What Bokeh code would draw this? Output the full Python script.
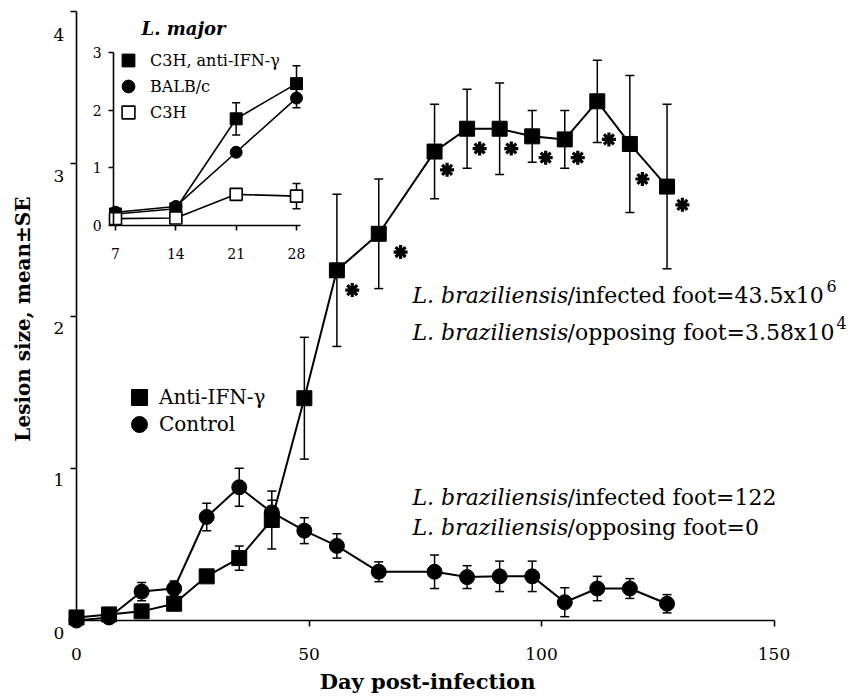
import math
from bokeh.plotting import figure
from bokeh.models import (Range1d, LinearAxis, FixedTicker, ColumnDataSource, Whisker,
                          TeeHead, Legend, LegendItem, Label)
from bokeh.embed import file_html
from bokeh.resources import INLINE

# ---------------- data ----------------
days = [0, 7, 14, 21, 28, 35, 42, 49, 56, 65, 77, 84, 91, 98, 105, 112, 119, 127]
anti_ifn_mean = [0.02, 0.04, 0.06, 0.11, 0.29, 0.41, 0.66, 1.46, 2.30, 2.54, 3.08, 3.23,
                 3.23, 3.18, 3.16, 3.41, 3.13, 2.85]
anti_ifn_se = [0, 0, 0, 0, 0.03, 0.08, 0.19, 0.40, 0.50, 0.36, 0.31, 0.26, 0.30, 0.17,
               0.19, 0.27, 0.45, 0.54]
control_mean = [0.0, 0.02, 0.19, 0.21, 0.68, 0.875, 0.71, 0.59, 0.49, 0.32, 0.32, 0.285,
                0.29, 0.29, 0.12, 0.21, 0.21, 0.11]
control_se = [0, 0, 0.06, 0.05, 0.09, 0.125, 0.08, 0.085, 0.08, 0.065, 0.11, 0.075, 0.10,
              0.10, 0.095, 0.08, 0.065, 0.06]
# significance asterisks
star_x = [59.3, 69.7, 79.7, 86.7, 93.5, 100.9, 107.8, 114.5, 121.7, 130.3]
star_y = [2.17, 2.42, 2.96, 3.10, 3.10, 3.04, 3.04, 3.16, 2.90, 2.73]

# inset (L. major)
inset_days = [7, 14, 21, 28]
c3h_anti_mean = [0.20, 0.29, 1.85, 2.46]
c3h_anti_se = [0.02, 0.02, 0.28, 0.31]
balbc_mean = [0.23, 0.33, 1.27, 2.21]
balbc_se = [0.02, 0.02, 0.05, 0.17]
c3h_mean = [0.12, 0.13, 0.54, 0.51]
c3h_se = [0.02, 0.02, 0.04, 0.22]

x_ticks = [0, 50, 100, 150]
y_ticks = [0, 1, 2, 3, 4]
inset_x_ticks = [7, 14, 21, 28]
inset_y_ticks = [0, 1, 2, 3]

# ---------------- geometry (canvas pixels) ----------------
W, H = 846, 696
X0_PX, X_PER = 76, 4.65                   # main x: day 0 pixel, px per day
Y0_PX, Y_PER = 620, 152.25                # main y: 0 pixel, px per unit
IX0, IX0_PX, IX_PER = 7, 115, 181 / 21    # inset x
IY0_PX, IY_PER = 225, 173 / 3             # inset y

x_range = Range1d((0 - X0_PX) / X_PER, (W - X0_PX) / X_PER)
y_range = Range1d((Y0_PX - H) / Y_PER, (Y0_PX - 0) / Y_PER)
ix_range = Range1d(IX0 + (0 - IX0_PX) / IX_PER, IX0 + (W - IX0_PX) / IX_PER)
iy_range = Range1d((IY0_PX - H) / IY_PER, (IY0_PX - 0) / IY_PER)


def px_x(px):
    return (px - X0_PX) / X_PER


def px_y(py):
    return (Y0_PX - py) / Y_PER


SERIF = "DejaVu Serif"

p = figure(width=W, height=H, x_range=x_range, y_range=y_range,
           x_axis_type=None, y_axis_type=None, output_backend="svg",
           toolbar_location=None, min_border_left=0, min_border_right=0,
           min_border_top=0, min_border_bottom=0)
p.outline_line_color = None
p.background_fill_color = "white"
p.border_fill_color = "white"
p.extra_x_ranges = {"ix": ix_range}
p.extra_y_ranges = {"iy": iy_range}


def style_axis(ax, label_size, tick_len):
    ax.axis_line_color = "black"
    ax.axis_line_width = 1.6
    ax.major_tick_line_color = "black"
    ax.major_tick_line_width = 1.6
    ax.minor_tick_line_color = None
    ax.major_tick_out = 0
    ax.major_tick_in = tick_len
    ax.major_label_text_font = SERIF
    ax.major_label_text_font_size = label_size
    ax.major_label_text_color = "black"


# Axes are drawn at fixed data locations inside the frame; ticks point
# left / down and the labels sit left / below, as in the reference.
xa = LinearAxis(ticker=FixedTicker(ticks=x_ticks), fixed_location=0, bounds=(0, 150))
style_axis(xa, "17px", 6)
xa.major_label_standoff = -39
p.add_layout(xa, "above")

ya = LinearAxis(ticker=FixedTicker(ticks=y_ticks), fixed_location=0, bounds=(0, 4))
style_axis(ya, "17px", 6)
ya.major_label_standoff = -23
# labels hang just below their ticks, as in the reference
ya.major_label_overrides = {t: "\n%d" % t for t in y_ticks}
p.add_layout(ya, "right")

ixa = LinearAxis(x_range_name="ix", y_range_name="iy",
                 ticker=FixedTicker(ticks=inset_x_ticks), fixed_location=0,
                 bounds=(6.8, 28.5))
style_axis(ixa, "14px", 5)
ixa.major_label_standoff = -33
p.add_layout(ixa, "above")

iya = LinearAxis(x_range_name="ix", y_range_name="iy",
                 ticker=FixedTicker(ticks=inset_y_ticks), fixed_location=6.8,
                 bounds=(0, 3))
style_axis(iya, "14px", 5)
iya.major_label_standoff = -21
p.add_layout(iya, "right")

# axis titles
p.add_layout(Label(x=75.5, y=px_y(681), text="Day post-infection", text_font=SERIF,
                   text_font_style="bold", text_font_size="21px", text_align="center",
                   text_baseline="middle", text_color="black"))
p.add_layout(Label(x=px_x(22), y=1.98, text="Lesion size, mean±SE", text_font=SERIF,
                   text_font_style="bold", text_font_size="20px", text_align="center",
                   text_baseline="middle", angle=math.pi / 2, text_color="black"))


def err_source(xs, ys, ses):
    xs_, lo, hi = [], [], []
    for x, y, s in zip(xs, ys, ses):
        if s > 0:
            xs_.append(x)
            lo.append(y - s)
            hi.append(y + s)
    return ColumnDataSource(dict(x=xs_, lower=lo, upper=hi))


def add_whisker(src, cap, **kw):
    w = Whisker(source=src, base="x", lower="lower", upper="upper", dimension="height",
                line_color="black", line_width=1.5,
                upper_head=TeeHead(size=cap, line_color="black", line_width=1.5),
                lower_head=TeeHead(size=cap, line_color="black", line_width=1.5),
                level="underlay", **kw)
    p.add_layout(w)


def add_legend_item(label, renderer, cx, cy, box, font_size, standoff):
    leg = Legend(items=[LegendItem(label=label, renderers=[renderer])],
                 location=(cx - box / 2, H - (cy + box / 2)), glyph_width=box,
                 glyph_height=box, padding=0, margin=0, spacing=0,
                 label_standoff=standoff, border_line_alpha=0, background_fill_alpha=0,
                 label_text_font=SERIF, label_text_font_size=font_size,
                 label_text_color="black", label_text_baseline="middle")
    p.add_layout(leg)


# ---------------- main chart ----------------
add_whisker(err_source(days, control_mean, control_se), 9)
add_whisker(err_source(days, anti_ifn_mean, anti_ifn_se), 9)

src_a = ColumnDataSource(dict(x=days, y=anti_ifn_mean))
src_c = ColumnDataSource(dict(x=days, y=control_mean))
p.line("x", "y", source=src_c, line_color="black", line_width=2)
p.line("x", "y", source=src_a, line_color="black", line_width=2)
r_sq = p.scatter("x", "y", source=src_a, marker="square", size=15, color="black")
r_ci = p.scatter("x", "y", source=src_c, marker="circle", size=15, color="black")

p.scatter(star_x, star_y, marker="asterisk", size=14, line_color="black", line_width=3.2)

add_legend_item("Anti-IFN-γ", r_sq, 139, 397, 40, "20px", 0)
add_legend_item("Control", r_ci, 139, 424, 40, "20px", 0)

# parasite-burden annotations
ANN_X = px_x(412)
ann_rows = [(px_y(295), "/infected foot=43.5x10", "6", 414),
            (px_y(332), "/opposing foot=3.58x10", "4", 424),
            (px_y(497), "/infected foot=122", None, 0),
            (px_y(527), "/opposing foot=0", None, 0)]
for yy, rest, sup, sup_off in ann_rows:
    p.add_layout(Label(x=ANN_X, y=yy, text="L. braziliensis", text_font=SERIF,
                       text_font_style="italic", text_font_size="22px",
                       text_baseline="middle", text_color="black"))
    p.add_layout(Label(x=ANN_X, y=yy, x_offset=155, text=rest, text_font=SERIF,
                       text_font_size="22px", text_baseline="middle",
                       text_color="black"))
    if sup:
        p.add_layout(Label(x=ANN_X, y=yy, x_offset=sup_off, y_offset=10, text=sup,
                           text_font=SERIF, text_font_size="16px",
                           text_baseline="middle", text_color="black"))

# ---------------- inset chart ----------------
ikw = dict(x_range_name="ix", y_range_name="iy")
add_whisker(err_source(inset_days, c3h_anti_mean, c3h_anti_se), 8, **ikw)
add_whisker(err_source(inset_days, balbc_mean, balbc_se), 8, **ikw)
add_whisker(err_source(inset_days, c3h_mean, c3h_se), 8, **ikw)

p.line(inset_days, c3h_anti_mean, line_color="black", line_width=1.6, **ikw)
p.line(inset_days, balbc_mean, line_color="black", line_width=1.6, **ikw)
p.line(inset_days, c3h_mean, line_color="black", line_width=1.6, **ikw)
ri1 = p.scatter(inset_days, c3h_anti_mean, marker="square", size=12, color="black", **ikw)
ri2 = p.scatter(inset_days, balbc_mean, marker="circle", size=12, color="black", **ikw)
ri3 = p.scatter(inset_days, c3h_mean, marker="square", size=12, fill_color="white",
                line_color="black", line_width=1.6, **ikw)

add_legend_item("C3H, anti-IFN-γ", ri1, 128, 60, 32, "16px", 6)
add_legend_item("BALB/c", ri2, 128, 86, 32, "16px", 6)
add_legend_item("C3H", ri3, 128, 112, 32, "16px", 6)

p.add_layout(Label(x=IX0 + (183 - IX0_PX) / IX_PER, y=(IY0_PX - 28) / IY_PER,
                   text="L. major", text_font=SERIF, text_font_style="bold italic",
                   text_font_size="18px", text_align="center", text_baseline="middle",
                   text_color="black", **ikw))

open("out.html", "w").write(file_html(p, INLINE))
